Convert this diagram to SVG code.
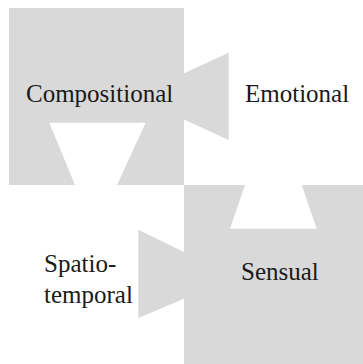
<svg xmlns="http://www.w3.org/2000/svg" width="363" height="364" viewBox="0 0 363 364">
<style>
.shape{fill:#d9d9d9;stroke:none}
.t{font-family:"Liberation Serif",serif;font-size:25px;fill:#1a1a1a}
</style>
<g id="compositional">
<path class="shape" d="M9,8 H184 V73.3 L228.7,52.7 V140 L184,119.5 V185 H117 L145.7,122.7 H49.3 L75,185 H9 Z"/>
<text class="t" x="26" y="101.7">Compositional</text>
</g>
<g id="emotional">
<text class="t" x="245" y="101.7">Emotional</text>
</g>
<g id="sensual">
<path class="shape" d="M184,185 H245 L230,228.7 H316.7 L301.7,185 H363 V364 H184 V298.7 L138.3,318 V229.7 L184,252 Z"/>
<text class="t" x="241" y="280">Sensual</text>
</g>
<g id="spatiotemporal">
<text class="t" x="44" y="271.7">Spatio-</text>
<text class="t" x="44" y="303.3">temporal</text>
</g>
</svg>
